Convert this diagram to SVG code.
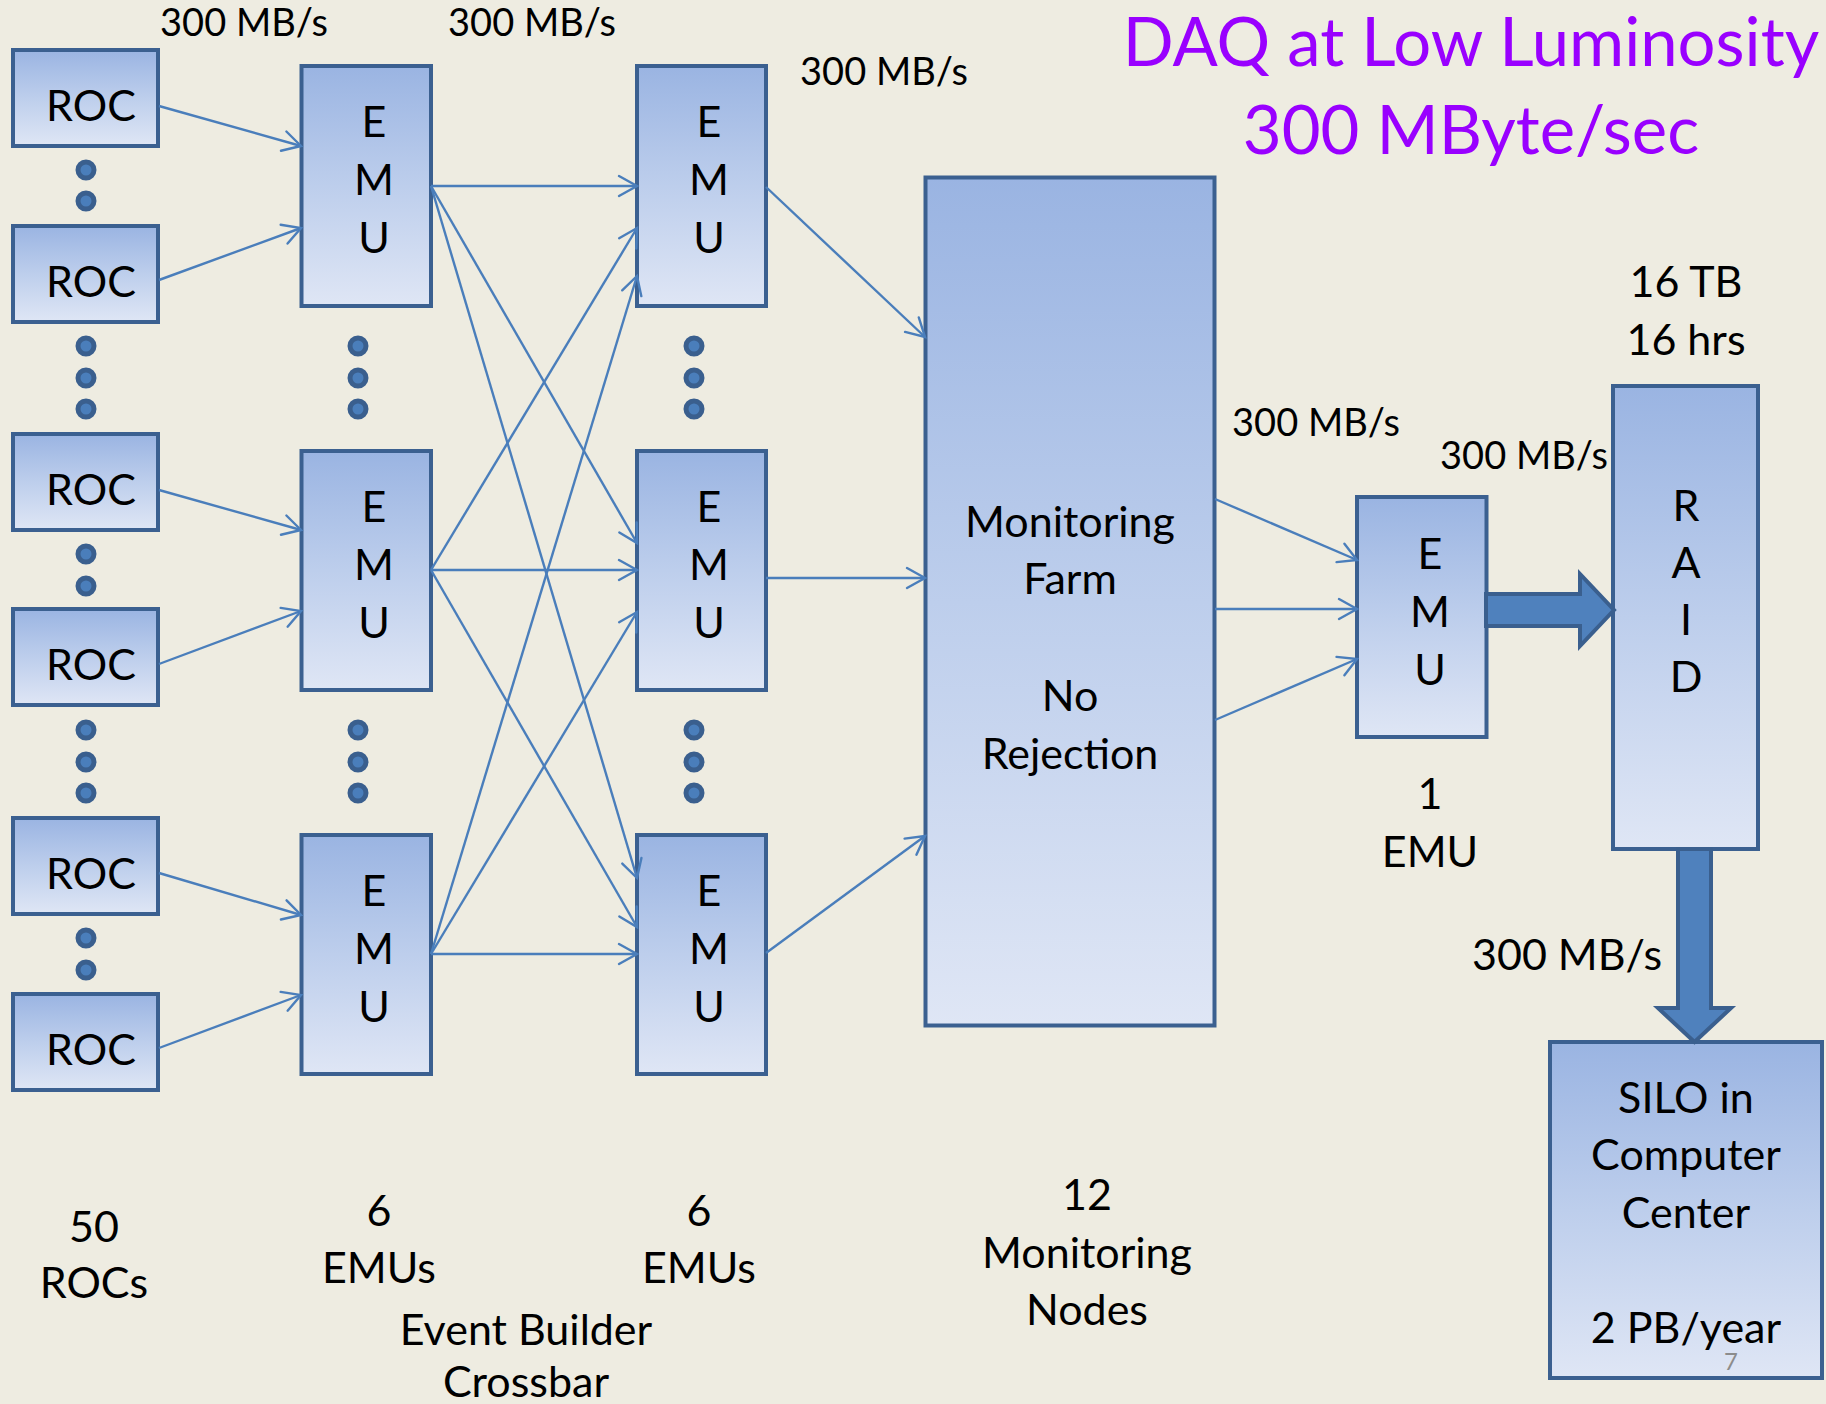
<svg xmlns="http://www.w3.org/2000/svg" width="1826" height="1404" viewBox="0 0 1826 1404">
<defs>
<linearGradient id="g" x1="0" y1="0" x2="0" y2="1">
<stop offset="0" stop-color="#9AB4E2"/>
<stop offset="0.5" stop-color="#BDCEEC"/>
<stop offset="1" stop-color="#DFE6F5"/>
</linearGradient>
<marker id="a" markerUnits="userSpaceOnUse" markerWidth="30" markerHeight="30" viewBox="-22 -15 30 30" refX="0" refY="0" orient="auto" overflow="visible">
<path d="M-18,-10 L0,0 L-18,10" fill="none" stroke="#4A7EBB" stroke-width="2.4" stroke-linecap="round"/>
</marker>
</defs>
<style>
.bx{fill:url(#g);stroke:#3B6090;stroke-width:4}
.t{font-family:Lato,"Open Sans",sans-serif;fill:#000;text-anchor:middle;font-size:43px}
.lbl{font-size:38px}
.ttl{font-size:67px;fill:#9900FF}
.pg{font-size:24px;fill:#8C8C8C}
.c line{stroke:#4A7EBB;stroke-width:2.4;marker-end:url(#a)}
.dot{fill:#4A7EBB;stroke:#3A5F8E;stroke-width:5}
.blk{fill:#4F81BD;stroke:#3A5F8E;stroke-width:4;stroke-linejoin:miter}
</style>
<rect width="1826" height="1404" fill="#EEECE1"/>

<g id="title" class="t">
<text class="t ttl" x="1471" y="66">DAQ at Low Luminosity</text>
<text class="t ttl" x="1471" y="154">300 MByte/sec</text>
</g>

<g id="roc1"><rect class="bx" x="13" y="50" width="145" height="96"/><text class="t" x="91" y="121">ROC</text></g>
<g id="roc2"><rect class="bx" x="13" y="226" width="145" height="96"/><text class="t" x="91" y="297">ROC</text></g>
<g id="roc3"><rect class="bx" x="13" y="434" width="145" height="96"/><text class="t" x="91" y="505">ROC</text></g>
<g id="roc4"><rect class="bx" x="13" y="609" width="145" height="96"/><text class="t" x="91" y="680">ROC</text></g>
<g id="roc5"><rect class="bx" x="13" y="818" width="145" height="96"/><text class="t" x="91" y="889">ROC</text></g>
<g id="roc6"><rect class="bx" x="13" y="994" width="145" height="96"/><text class="t" x="91" y="1065">ROC</text></g>

<g id="emu1a"><rect class="bx" x="301.5" y="66" width="129.5" height="240"/><text class="t" x="374" y="137">E</text><text class="t" x="374" y="195">M</text><text class="t" x="374" y="253">U</text></g>
<g id="emu1b"><rect class="bx" x="301.5" y="451" width="129.5" height="239"/><text class="t" x="374" y="522">E</text><text class="t" x="374" y="580">M</text><text class="t" x="374" y="638">U</text></g>
<g id="emu1c"><rect class="bx" x="301.5" y="835" width="129.5" height="239"/><text class="t" x="374" y="906">E</text><text class="t" x="374" y="964">M</text><text class="t" x="374" y="1022">U</text></g>

<g id="emu2a"><rect class="bx" x="637" y="66" width="129" height="240"/><text class="t" x="709" y="137">E</text><text class="t" x="709" y="195">M</text><text class="t" x="709" y="253">U</text></g>
<g id="emu2b"><rect class="bx" x="637" y="451" width="129" height="239"/><text class="t" x="709" y="522">E</text><text class="t" x="709" y="580">M</text><text class="t" x="709" y="638">U</text></g>
<g id="emu2c"><rect class="bx" x="637" y="835" width="129" height="239"/><text class="t" x="709" y="906">E</text><text class="t" x="709" y="964">M</text><text class="t" x="709" y="1022">U</text></g>

<g id="farm"><rect class="bx" x="925.5" y="177.5" width="289" height="848"/>
<text class="t" x="1070" y="537">Monitoring</text><text class="t" x="1070" y="594">Farm</text>
<text class="t" x="1070" y="711">No</text><text class="t" x="1070" y="769">Rejection</text></g>

<g id="emu3"><rect class="bx" x="1357" y="497" width="129.5" height="240"/><text class="t" x="1430" y="569">E</text><text class="t" x="1430" y="627">M</text><text class="t" x="1430" y="685">U</text></g>

<g id="raid"><rect class="bx" x="1613" y="386" width="145" height="463"/><text class="t" x="1686" y="521">R</text><text class="t" x="1686" y="578">A</text><text class="t" x="1686" y="635">I</text><text class="t" x="1686" y="692">D</text></g>

<g id="silo"><rect class="bx" x="1550" y="1042" width="272" height="336"/>
<text class="t" x="1686" y="1113">SILO in</text><text class="t" x="1686" y="1170">Computer</text><text class="t" x="1686" y="1228">Center</text><text class="t" x="1686" y="1343">2 PB/year</text>
<text class="t pg" x="1731" y="1370">7</text></g>

<g id="dots">
<circle class="dot" cx="86" cy="170" r="8"/><circle class="dot" cx="86" cy="201" r="8"/>
<circle class="dot" cx="86" cy="346" r="8"/><circle class="dot" cx="86" cy="378" r="8"/><circle class="dot" cx="86" cy="409" r="8"/>
<circle class="dot" cx="86" cy="554" r="8"/><circle class="dot" cx="86" cy="586" r="8"/>
<circle class="dot" cx="86" cy="730" r="8"/><circle class="dot" cx="86" cy="762" r="8"/><circle class="dot" cx="86" cy="793" r="8"/>
<circle class="dot" cx="86" cy="938" r="8"/><circle class="dot" cx="86" cy="970" r="8"/>
<circle class="dot" cx="358" cy="346" r="8"/><circle class="dot" cx="358" cy="378" r="8"/><circle class="dot" cx="358" cy="409" r="8"/>
<circle class="dot" cx="358" cy="730" r="8"/><circle class="dot" cx="358" cy="762" r="8"/><circle class="dot" cx="358" cy="793" r="8"/>
<circle class="dot" cx="694" cy="346" r="8"/><circle class="dot" cx="694" cy="378" r="8"/><circle class="dot" cx="694" cy="409" r="8"/>
<circle class="dot" cx="694" cy="730" r="8"/><circle class="dot" cx="694" cy="762" r="8"/><circle class="dot" cx="694" cy="793" r="8"/>
</g>

<g id="connectors" class="c">
<line x1="159" y1="106" x2="301" y2="146"/>
<line x1="159" y1="280" x2="301" y2="228"/>
<line x1="159" y1="490" x2="301" y2="530"/>
<line x1="159" y1="664" x2="301" y2="611"/>
<line x1="159" y1="873" x2="301" y2="915"/>
<line x1="159" y1="1048" x2="301" y2="995"/>
<line x1="431" y1="186" x2="637" y2="186"/>
<line x1="431" y1="186" x2="637" y2="543"/>
<line x1="431" y1="186" x2="637" y2="878"/>
<line x1="431" y1="570" x2="637" y2="228"/>
<line x1="431" y1="570" x2="637" y2="570"/>
<line x1="431" y1="570" x2="637" y2="927"/>
<line x1="431" y1="954" x2="637" y2="276"/>
<line x1="431" y1="954" x2="637" y2="612"/>
<line x1="431" y1="954" x2="637" y2="954"/>
<line x1="766" y1="187" x2="925" y2="337"/>
<line x1="766" y1="578" x2="925" y2="578"/>
<line x1="766" y1="953" x2="925" y2="836"/>
<line x1="1215" y1="499" x2="1357" y2="560"/>
<line x1="1215" y1="609" x2="1357" y2="609"/>
<line x1="1215" y1="720" x2="1357" y2="659"/>
<polygon class="blk" points="1486,594 1580,594 1580,574 1614,610 1580,646 1580,626 1486,626"/>
<polygon class="blk" points="1678,849 1711,849 1711,1008 1731,1008 1694.5,1042 1658,1008 1678,1008"/>
</g>

<g id="labels">
<text class="t lbl" x="244" y="36">300 MB/s</text>
<text class="t lbl" x="532" y="36">300 MB/s</text>
<text class="t lbl" x="884" y="85">300 MB/s</text>
<text class="t lbl" x="1316" y="436">300 MB/s</text>
<text class="t lbl" x="1524" y="469">300 MB/s</text>
<text class="t" x="1567" y="970">300 MB/s</text>
<text class="t" x="1686" y="297">16 TB</text>
<text class="t" x="1686" y="355">16 hrs</text>
<text class="t" x="1430" y="809">1</text>
<text class="t" x="1430" y="867">EMU</text>
<text class="t" x="94" y="1242">50</text>
<text class="t" x="94" y="1298">ROCs</text>
<text class="t" x="379" y="1226">6</text>
<text class="t" x="379" y="1283">EMUs</text>
<text class="t" x="699" y="1226">6</text>
<text class="t" x="699" y="1283">EMUs</text>
<text class="t" x="526" y="1345">Event Builder</text>
<text class="t" x="526" y="1397">Crossbar</text>
<text class="t" x="1087" y="1210">12</text>
<text class="t" x="1087" y="1268">Monitoring</text>
<text class="t" x="1087" y="1325">Nodes</text>
</g>
</svg>
